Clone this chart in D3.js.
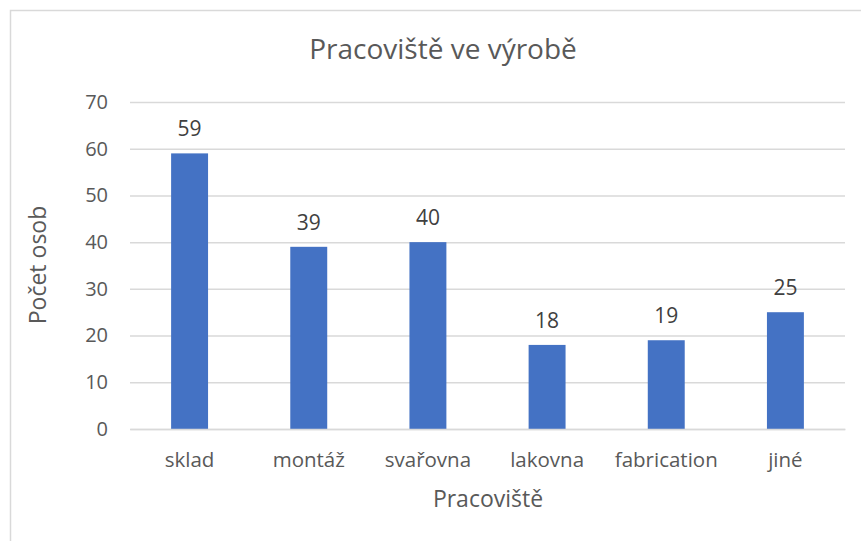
<!DOCTYPE html>
<html>
<head>
<meta charset="utf-8">
<script src="https://cdn.jsdelivr.net/npm/d3@7"></script>
<style>
  body { margin: 0; background: #fff; }
  text { font-family: "Open Sans", sans-serif; fill: #595959; }
</style>
</head>
<body>
<div id="chart"></div>
<script>
// Data
const categories = ["sklad", "montáž", "svařovna", "lakovna", "fabrication", "jiné"];
const values = [59, 39, 40, 18, 19, 25];
const yTicks = [0, 10, 20, 30, 40, 50, 60, 70];

const width = 861;
const height = 541;
const plot = { left: 130, right: 845, top: 102, bottom: 429 };

const svg = d3.select("#chart").append("svg")
    .attr("width", width)
    .attr("height", height);

// Chart border
svg.append("rect")
    .attr("x", 10.5)
    .attr("y", 10.5)
    .attr("width", width)
    .attr("height", height)
    .attr("fill", "none")
    .attr("stroke", "#d9d9d9")
    .attr("stroke-width", 1.5);

// Scales
const x = d3.scaleBand()
    .domain(categories)
    .range([plot.left, plot.right])
    .paddingInner(0.69)
    .paddingOuter(0.345);

const y = d3.scaleLinear()
    .domain([0, 70])
    .range([plot.bottom, plot.top]);

// Gridlines + y axis labels
const yAxis = svg.append("g")
    .attr("transform", `translate(${plot.left},0)`)
    .call(d3.axisLeft(y).tickValues(yTicks).tickSize(-(plot.right - plot.left)).tickPadding(22));
yAxis.select(".domain").remove();
yAxis.selectAll(".tick line").attr("stroke", "#d9d9d9").attr("stroke-width", 1.5);
yAxis.selectAll(".tick text")
    .style("font-size", "20px")
    .style("font-family", "Open Sans, sans-serif")
    .attr("fill", "#595959");

// Bars
svg.selectAll(".bar")
    .data(values)
    .enter()
    .append("rect")
    .attr("class", "bar")
    .attr("x", (d, i) => x(categories[i]))
    .attr("y", d => y(d))
    .attr("width", x.bandwidth())
    .attr("height", d => y(0) - y(d))
    .attr("fill", "#4472c4");

// Data labels
svg.selectAll(".label")
    .data(values)
    .enter()
    .append("text")
    .attr("class", "label")
    .attr("x", (d, i) => x(categories[i]) + x.bandwidth() / 2)
    .attr("y", d => y(d) - 17)
    .attr("text-anchor", "middle")
    .style("font-size", "21px")
    .style("fill", "#404040")
    .text(d => d);

// X axis labels
const xAxis = svg.append("g")
    .attr("transform", `translate(0,${plot.bottom})`)
    .call(d3.axisBottom(x).tickSize(0).tickPadding(23));
xAxis.select(".domain").attr("stroke", "#d9d9d9").attr("stroke-width", 1.5);
xAxis.selectAll(".tick text")
    .style("font-size", "20.5px")
    .style("font-family", "Open Sans, sans-serif")
    .attr("fill", "#595959");

// Title
svg.append("text")
    .attr("x", 443)
    .attr("y", 59)
    .attr("text-anchor", "middle")
    .style("font-size", "28px")
    .text("Pracoviště ve výrobě");

// Axis titles
svg.append("text")
    .attr("x", 488)
    .attr("y", 507)
    .attr("text-anchor", "middle")
    .style("font-size", "23px")
    .text("Pracoviště");

svg.append("text")
    .attr("transform", "rotate(-90)")
    .attr("x", -265)
    .attr("y", 46)
    .attr("text-anchor", "middle")
    .style("font-size", "23px")
    .text("Počet osob");
</script>
</body>
</html>
